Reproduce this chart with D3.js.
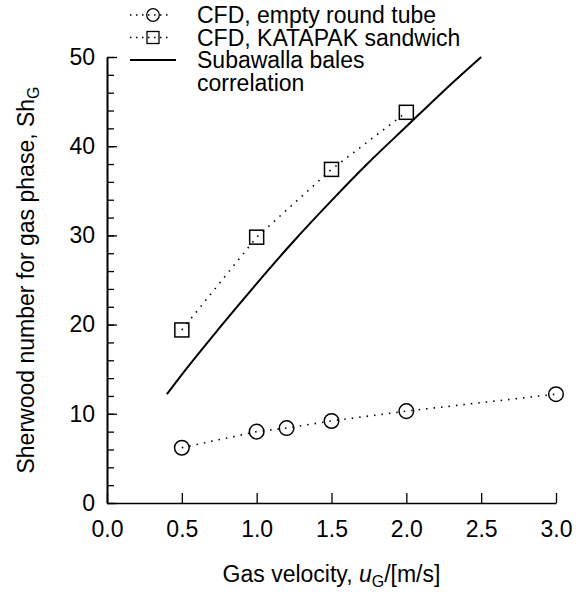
<!DOCTYPE html>
<html>
<head>
<meta charset="utf-8">
<script src="https://cdn.jsdelivr.net/npm/d3@7"></script>
<style>
  body { margin: 0; background: #fff; }
  svg { display: block; font-family: "Liberation Sans", Arial, sans-serif; }
</style>
</head>
<body>
<div id="chart"></div>
<script>
// data
const velTube = [0.5, 1.0, 1.2, 1.5, 2.0, 3.0]
const shTube = [6.2, 8.0, 8.4, 9.2, 10.3, 12.2]

const velKatapak = [0.5, 1.0, 1.5, 2.0]
const shKatapak = [19.4, 29.8, 37.4, 43.8]

const velCorr = [0.4, 0.5, 0.75, 1.0, 1.25, 1.5, 1.75, 2.0, 2.25, 2.5]
const shCorr = [12.2, 14.4, 19.6, 24.6, 29.4, 33.9, 38.2, 42.2, 46.2, 50.0]

const xTicks = [0, 0.5, 1.0, 1.5, 2.0, 2.5, 3.0]
const yTicks = [0, 10, 20, 30, 40, 50]
const yMinorTicks = d3.range(0, 51, 2)

const legendLabels = ["CFD, empty round tube", "CFD, KATAPAK sandwich", ["Subawalla bales", "correlation"]]

function drawChart() {
  const width = 580
  const height = 592
  const fontSize = 23

  const svg = d3.select("#chart")
    .append("svg")
    .attr("width", width)
    .attr("height", height)

  // scales
  const xScale = d3.scaleLinear()
    .domain([0, 3])
    .range([107, 556])

  const yScale = d3.scaleLinear()
    .domain([0, 50])
    .range([503, 57])

  const zip = (xs, ys) => xs.map((x, i) => ({x: x, y: ys[i]}))
  const tube = zip(velTube, shTube)
  const katapak = zip(velKatapak, shKatapak)
  const corr = zip(velCorr, shCorr)

  // axes
  const yMinor = d3.axisLeft(yScale)
    .tickValues(yMinorTicks)
    .tickSizeInner(-7)
    .tickSizeOuter(0)
    .tickFormat("")

  const yAxis = d3.axisLeft(yScale)
    .tickValues(yTicks)
    .tickSizeInner(-10)
    .tickSizeOuter(0)
    .tickPadding(12)
    .tickFormat(d3.format("d"))

  const xAxis = d3.axisBottom(xScale)
    .tickValues(xTicks)
    .tickSizeInner(-10)
    .tickSizeOuter(0)
    .tickPadding(18)
    .tickFormat(d3.format(".1f"))

  const gyMinor = svg.append("g")
    .attr("transform", `translate(${xScale(0)}, 0)`)
    .call(yMinor)

  const gy = svg.append("g")
    .attr("transform", `translate(${xScale(0)}, 0)`)
    .call(yAxis)

  const gx = svg.append("g")
    .attr("transform", `translate(0, ${yScale(0)})`)
    .call(xAxis)

  for (const g of [gyMinor, gy, gx]) {
    g.selectAll(".domain").attr("stroke", "#000").attr("stroke-width", 1.6)
    g.selectAll(".tick line").attr("stroke", "#000").attr("stroke-width", 1.3)
    g.selectAll(".tick text")
      .attr("fill", "#000")
      .style("font-family", "'Liberation Sans', Arial, sans-serif")
      .style("font-size", fontSize + "px")
  }

  // axis titles
  const yTitle = svg.append("text")
    .attr("transform", `translate(34, ${(yScale(0) + yScale(50)) / 2}) rotate(-90)`)
    .attr("text-anchor", "middle")
    .attr("font-size", fontSize)
  yTitle.append("tspan").text("Sherwood number for gas phase, Sh")
  yTitle.append("tspan").attr("dy", 5).attr("font-size", 16).text("G")

  const xTitle = svg.append("text")
    .attr("x", (xScale(0) + xScale(3)) / 2)
    .attr("y", 582)
    .attr("text-anchor", "middle")
    .attr("font-size", fontSize)
  xTitle.append("tspan").text("Gas velocity, ")
  xTitle.append("tspan").attr("font-style", "italic").text("u")
  xTitle.append("tspan").attr("dy", 5).attr("font-size", 16).text("G")
  xTitle.append("tspan").attr("dy", -5).text("/[m/s]")

  // lines
  const lineGenerator = d3.line()
    .x(d => xScale(d.x))
    .y(d => yScale(d.y))

  const dotted = "1.5,6"

  svg.append("path")
    .datum(tube)
    .attr("d", lineGenerator)
    .attr("fill", "none")
    .attr("stroke", "#000")
    .attr("stroke-width", 1.6)
    .attr("stroke-dasharray", dotted)

  svg.append("path")
    .datum(katapak)
    .attr("d", lineGenerator)
    .attr("fill", "none")
    .attr("stroke", "#000")
    .attr("stroke-width", 1.6)
    .attr("stroke-dasharray", dotted)

  svg.append("path")
    .datum(corr)
    .attr("d", lineGenerator.curve(d3.curveMonotoneX))
    .attr("fill", "none")
    .attr("stroke", "#000")
    .attr("stroke-width", 2)

  // markers
  svg.selectAll(".circ")
    .data(tube)
    .join("circle")
    .attr("cx", d => xScale(d.x))
    .attr("cy", d => yScale(d.y))
    .attr("r", 7.3)
    .attr("fill", "none")
    .attr("stroke", "#000")
    .attr("stroke-width", 1.5)

  svg.selectAll(".sq")
    .data(katapak)
    .join("rect")
    .attr("x", d => xScale(d.x) - 7)
    .attr("y", d => yScale(d.y) - 7)
    .attr("width", 14)
    .attr("height", 14)
    .attr("fill", "none")
    .attr("stroke", "#000")
    .attr("stroke-width", 1.5)

  // legend
  const legend = svg.append("g").attr("transform", "translate(130, 15)")
  const rowH = 22.5

  legendLabels.forEach((label, i) => {
    const row = legend.append("g").attr("transform", `translate(0, ${i * rowH})`)
    if (i < 2) {
      row.append("line")
        .attr("x1", 0).attr("x2", 42)
        .attr("stroke", "#000")
        .attr("stroke-width", 1.6)
        .attr("stroke-dasharray", "1.5,4.5")
      if (i === 0) {
        row.append("circle").attr("cx", 23).attr("r", 6.3)
          .attr("fill", "none").attr("stroke", "#000").attr("stroke-width", 1.3)
      } else {
        row.append("rect").attr("x", 17).attr("y", -6).attr("width", 12).attr("height", 12)
          .attr("fill", "none").attr("stroke", "#000").attr("stroke-width", 1.3)
      }
    } else {
      row.append("line")
        .attr("x1", 0).attr("x2", 46)
        .attr("stroke", "#000")
        .attr("stroke-width", 2)
    }
    const lines = Array.isArray(label) ? label : [label]
    lines.forEach((t, j) => {
      row.append("text")
        .attr("x", 67)
        .attr("y", j * rowH)
        .attr("dy", "0.36em")
        .attr("font-size", fontSize)
        .text(t)
    })
  })
}

drawChart()
</script>
</body>
</html>
